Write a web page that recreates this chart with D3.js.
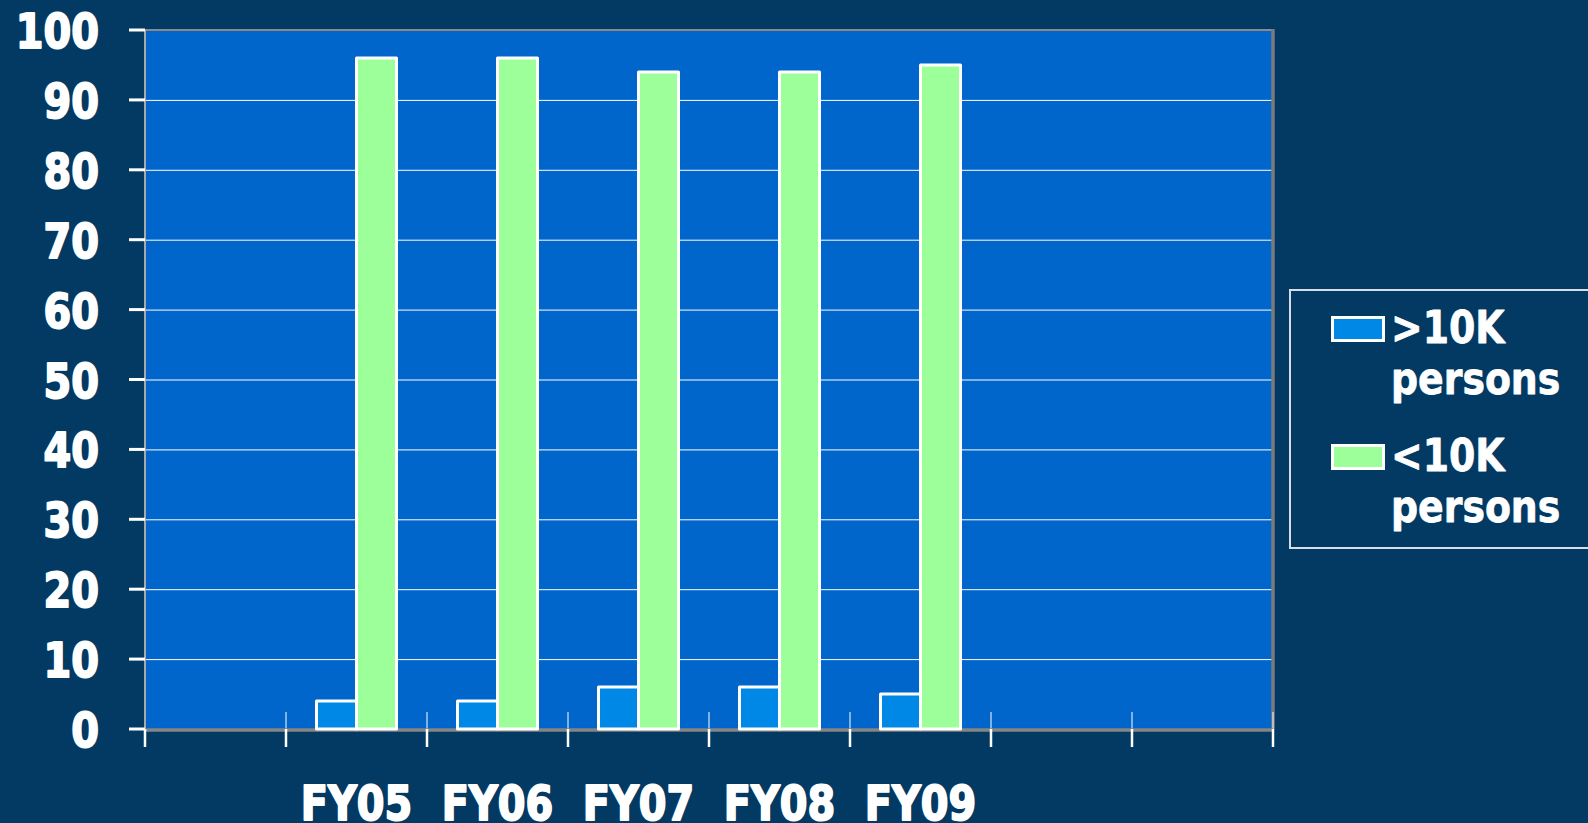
<!DOCTYPE html>
<html>
<head>
<meta charset="utf-8">
<script src="https://cdn.jsdelivr.net/npm/d3@7"></script>
<style>
  html, body { margin: 0; padding: 0; background: #023a63; }
  svg { display: block; }
  text { font-family: "DejaVu Sans", Verdana, sans-serif; font-weight: bold; fill: #ffffff; stroke: #ffffff; paint-order: stroke; stroke-linejoin: round; }
</style>
</head>
<body>
<svg id="chart" width="1588" height="823"></svg>
<script>
// ---- data ----
const slots = [0, 1, 2, 3, 4, 5, 6, 7];
const slotLabels = ["", "FY05", "FY06", "FY07", "FY08", "FY09", "", ""];
const years = ["FY05", "FY06", "FY07", "FY08", "FY09"];
const over10k = [4, 4, 6, 6, 5];
const under10k = [96, 96, 94, 94, 95];
const seriesNames = [">10K persons", "<10K persons"];
const legendLines = [[">10K", "persons"], ["<10K", "persons"]];
const yTicks = [0, 10, 20, 30, 40, 50, 60, 70, 80, 90, 100];

// ---- styling ----
const W = 1588, H = 823;
const plot = { left: 145, right: 1273, top: 30, bottom: 729 };
const colors = ["#0088e6", "#9dff99"];
const sx = 0.83;

const svg = d3.select("#chart");
svg.append("rect").attr("width", W).attr("height", H).attr("fill", "#023a63");

const x = d3.scaleBand().domain(slots).range([plot.left, plot.right]).padding(0);
const y = d3.scaleLinear().domain([0, 100]).range([plot.bottom, plot.top]);
const inner = d3.scaleBand().domain([0, 1]).range([-40, 40]).padding(0);

// plot background
svg.append("rect")
  .attr("x", plot.left).attr("y", plot.top)
  .attr("width", plot.right - plot.left).attr("height", plot.bottom - plot.top)
  .attr("fill", "#0066cc");

// gridlines
svg.append("g").selectAll("line")
  .data(yTicks.filter(t => t > 0 && t < 100))
  .join("line")
  .attr("x1", plot.left).attr("x2", plot.right)
  .attr("y1", d => y(d) + 0.5).attr("y2", d => y(d) + 0.5)
  .attr("stroke", "#ffffff").attr("stroke-width", 1);

// borders
svg.append("line").attr("x1", plot.left).attr("x2", plot.right)
  .attr("y1", plot.top).attr("y2", plot.top)
  .attr("stroke", "#8a8a8a").attr("stroke-width", 2);
svg.append("line").attr("x1", plot.right).attr("x2", plot.right)
  .attr("y1", plot.top - 1).attr("y2", plot.bottom)
  .attr("stroke", "#7a7a7a").attr("stroke-width", 3.5);
svg.append("line").attr("x1", plot.left).attr("x2", plot.left)
  .attr("y1", plot.top).attr("y2", plot.bottom + 2)
  .attr("stroke", "#a8a8a8").attr("stroke-width", 2);

// x tick marks (between categories)
const xTickPos = slots.map(s => x(s)).concat([plot.right]);
svg.append("g").selectAll("line.in")
  .data(xTickPos.slice(1))
  .join("line")
  .attr("x1", d => d).attr("x2", d => d)
  .attr("y1", plot.bottom - 17).attr("y2", plot.bottom)
  .attr("stroke", "#ffffff").attr("stroke-width", 1);

// bottom axis line
svg.append("line").attr("x1", plot.left).attr("x2", plot.right)
  .attr("y1", plot.bottom + 1).attr("y2", plot.bottom + 1)
  .attr("stroke", "#858585").attr("stroke-width", 3.5);

svg.append("g").selectAll("line.out")
  .data(xTickPos)
  .join("line")
  .attr("x1", d => d).attr("x2", d => d)
  .attr("y1", plot.bottom).attr("y2", plot.bottom + 18)
  .attr("stroke", "#ffffff").attr("stroke-width", 2.5);

// y tick marks
svg.append("g").selectAll("line")
  .data(yTicks)
  .join("line")
  .attr("x1", plot.left - 16).attr("x2", plot.left)
  .attr("y1", d => y(d)).attr("y2", d => y(d))
  .attr("stroke", "#ffffff").attr("stroke-width", 3);

// bars
const series = [over10k, under10k];
series.forEach((vals, si) => {
  svg.append("g").selectAll("rect")
    .data(years.map((yr, i) => ({ yr, v: vals[i] })))
    .join("rect")
    .attr("x", d => x(slots[slotLabels.indexOf(d.yr)]) + x.bandwidth() / 2 + inner(si))
    .attr("width", inner.bandwidth())
    .attr("y", d => y(d.v))
    .attr("height", d => y(0) - y(d.v))
    .attr("fill", colors[si])
    .attr("stroke", "#ffffff").attr("stroke-width", 3)
    .attr("stroke-linejoin", "round");
});

// y tick labels
svg.append("g").selectAll("g")
  .data(yTicks)
  .join("g")
  .attr("transform", d => `translate(99, ${y(d) + 18}) scale(${sx},1)`)
  .append("text")
  .attr("text-anchor", "end")
  .style("font-size", "48px")
  .style("stroke-width", "2px")
  .text(d => d);

// x category labels
svg.append("g").selectAll("g")
  .data(slots.filter(s => slotLabels[s] !== ""))
  .join("g")
  .attr("transform", s => `translate(${x(s) + x.bandwidth() / 2}, 820) scale(${sx},1)`)
  .append("text")
  .attr("text-anchor", "middle")
  .style("font-size", "48px")
  .style("stroke-width", "2px")
  .text(s => slotLabels[s]);

// legend
const lg = svg.append("g");
lg.append("rect")
  .attr("x", 1290).attr("y", 290).attr("width", 320).attr("height", 258)
  .attr("fill", "#023a63").attr("stroke", "#d8dde4").attr("stroke-width", 2);
seriesNames.forEach((name, i) => {
  const top = 317.5 + i * 128;
  lg.append("rect")
    .attr("x", 1332.5).attr("y", top).attr("width", 51).attr("height", 23)
    .attr("fill", colors[i]).attr("stroke", "#ffffff").attr("stroke-width", 3);
  legendLines[i].forEach((ln, j) => {
    lg.append("g")
      .attr("transform", `translate(1391, ${343 + i * 128 + j * 51}) scale(0.86,1)`)
      .append("text")
      .style("font-size", "44px")
      .style("stroke-width", "0.8px")
      .text(ln);
  });
});
</script>
</body>
</html>
